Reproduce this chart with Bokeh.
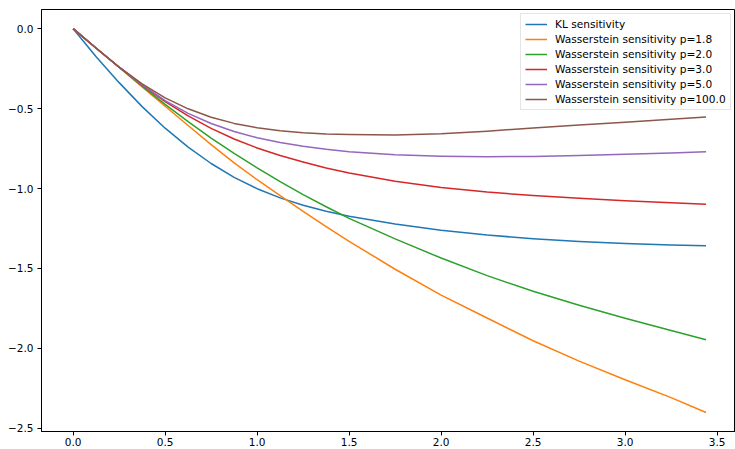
from bokeh.plotting import figure
from bokeh.models import FixedTicker, CustomJSTickFormatter, Range1d, Legend, LegendItem
from bokeh.embed import file_html
from bokeh.resources import INLINE

# ---- data ----
x = [0.0, 0.125, 0.25, 0.375, 0.5, 0.625, 0.75, 0.875, 1.0, 1.125, 1.25, 1.375,
     1.5, 1.75, 2.0, 2.25, 2.5, 2.75, 3.0, 3.25, 3.44]

kl = [0.0, -0.175, -0.3375, -0.4875, -0.6225, -0.741, -0.8435, -0.93, -1.001, -1.0585,
      -1.105, -1.142, -1.1735, -1.222, -1.261, -1.291, -1.314, -1.331, -1.344, -1.353, -1.358]
w18 = [0.0, -0.121, -0.2425, -0.364, -0.485, -0.606, -0.725, -0.84, -0.945, -1.045,
       -1.143, -1.238, -1.33, -1.505, -1.667, -1.81, -1.952, -2.08, -2.196, -2.308, -2.401]
w20 = [0.0, -0.121, -0.241, -0.359, -0.473, -0.581, -0.684, -0.78, -0.871, -0.957,
       -1.038, -1.114, -1.187, -1.315, -1.435, -1.545, -1.643, -1.73, -1.812, -1.888, -1.946]
w30 = [0.0, -0.1225, -0.241, -0.3535, -0.456, -0.546, -0.6235, -0.69, -0.746, -0.7935,
       -0.8335, -0.872, -0.903, -0.955, -0.993, -1.022, -1.044, -1.061, -1.076, -1.089, -1.099]
w50 = [0.0, -0.1225, -0.241, -0.352, -0.4497, -0.5297, -0.5935, -0.6435, -0.6823, -0.7123,
       -0.736, -0.7548, -0.7698, -0.789, -0.798, -0.801, -0.799, -0.793, -0.785, -0.777, -0.770]
w100 = [0.0, -0.1225, -0.24, -0.345, -0.4325, -0.5013, -0.5538, -0.5925, -0.62, -0.6388,
        -0.6513, -0.6588, -0.6625, -0.6645, -0.657, -0.641, -0.621, -0.603, -0.585, -0.567, -0.553]

labels = ["KL sensitivity",
          "Wasserstein sensitivity p=1.8",
          "Wasserstein sensitivity p=2.0",
          "Wasserstein sensitivity p=3.0",
          "Wasserstein sensitivity p=5.0",
          "Wasserstein sensitivity p=100.0"]
series = [kl, w18, w20, w30, w50, w100]
colors = ["#1f77b4", "#ff7f0e", "#2ca02c", "#d62728", "#9467bd", "#8c564b"]

x_ticks = [0.0, 0.5, 1.0, 1.5, 2.0, 2.5, 3.0, 3.5]
y_ticks = [0.0, -0.5, -1.0, -1.5, -2.0, -2.5]

FONT = "DejaVu Sans"

p = figure(width=735, height=449, output_backend="svg", toolbar_location=None,
           x_range=Range1d(-0.172, 3.600), y_range=Range1d(-2.52, 0.12),
           min_border_left=41, min_border_right=0, min_border_top=9, min_border_bottom=18)
p.background_fill_color = "white"
p.border_fill_color = "white"
p.outline_line_color = "black"
p.outline_line_width = 1
p.xgrid.visible = False
p.ygrid.visible = False

fmt = CustomJSTickFormatter(code="return (tick < -1e-9 ? '\u2212' : '') + Math.abs(tick).toFixed(1);")
for ax, ticks in ((p.xaxis[0], x_ticks), (p.yaxis[0], y_ticks)):
    ax.ticker = FixedTicker(ticks=ticks)
    ax.formatter = fmt
    ax.major_tick_out = 4
    ax.major_tick_in = 0
    ax.minor_tick_line_color = None
    ax.major_tick_line_color = "black"
    ax.axis_line_color = "black"
    ax.major_label_text_font = FONT
    ax.major_label_text_font_size = "10.5px"
    ax.major_label_text_color = "black"
p.xaxis[0].major_label_standoff = 2
p.yaxis[0].major_label_standoff = 4

items = []
for lab, ys, c in zip(labels, series, colors):
    r = p.line(x, ys, line_color=c, line_width=1.5, line_join="round")
    items.append(LegendItem(label=lab, renderers=[r]))

legend = Legend(items=items, location=(479, 321))
legend.label_text_font = FONT
legend.label_text_font_size = "10.6px"
legend.label_text_color = "black"
legend.glyph_width = 22
legend.glyph_height = 12
legend.label_height = 12
legend.spacing = 3
legend.padding = 4
legend.margin = 0
legend.label_standoff = 8
legend.border_line_color = "#cccccc"
legend.border_line_width = 1
legend.background_fill_color = "white"
legend.background_fill_alpha = 0.8
p.add_layout(legend, "center")

open("out.html", "w").write(file_html(p, INLINE))
